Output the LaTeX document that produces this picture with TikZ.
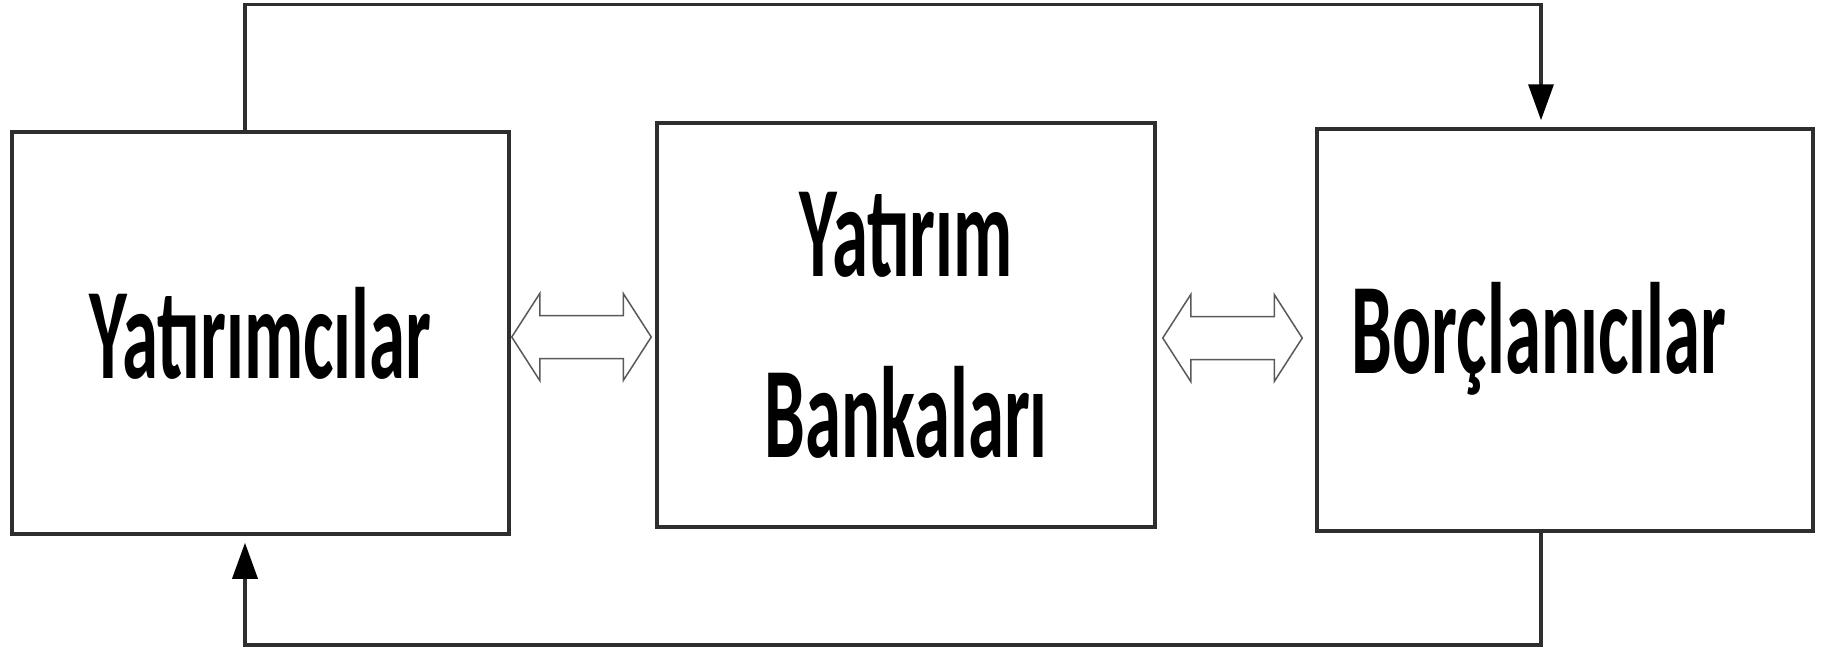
\documentclass[tikz,border=0pt]{standalone}
\usepackage{fontspec}
\setmainfont{Carlito}
\usetikzlibrary{arrows.meta,calc}
\newcommand\narrowtext[1]{\scalebox{0.56}[1]{#1}}
\begin{document}
\begin{tikzpicture}[x=1pt,y=-1pt,
  box/.style={draw=black!82, line width=3.5pt, inner sep=0pt, align=center,
    font=\bfseries\fontsize{130}{181}\selectfont},
  lbl/.style={inner sep=0pt, font=\bfseries\fontsize{130}{181}\selectfont},
  flow/.style={draw=black!82, line width=3.5pt, shorten >=7pt,
    -{Triangle[length=36pt,width=25pt,fill=black,color=black]}},
  dbl/.style={draw=black!65, line width=1.5pt, fill=white,
    to path={let \p1=(\tikztostart), \p2=(\tikztotarget) in
      (\x1,\y1) -- (\x1+28pt,\y1+43.5pt) -- (\x1+28pt,\y1+21.5pt)
      -- (\x2-28pt,\y1+21.5pt) -- (\x2-28pt,\y1+43.5pt) -- (\x2,\y1)
      -- (\x2-28pt,\y1-43.5pt) -- (\x2-28pt,\y1-21.5pt)
      -- (\x1+28pt,\y1-21.5pt) -- (\x1+28pt,\y1-43.5pt) -- cycle}}]
\useasboundingbox (0,0) rectangle (1822,649);

\node[box, minimum width=497pt, minimum height=402pt] (A) at (260.5,333)
  {\narrowtext{Yatırımcılar}};
\node[box, minimum width=498pt, minimum height=404pt] (B) at (906,325)
  {\narrowtext{Yatırım}\\\narrowtext{Bankaları}};
\node[box, minimum width=496pt, minimum height=402pt] (C) at (1565,330) {};
\node[lbl, anchor=base] (Ct) at ($(C.center)+(-26,43)$)
  {\narrowtext{Borçlanıcılar}};

\draw[flow] ([xshift=-15.5pt]A.north) -- ++(0,-126) -| ([xshift=-24pt]C.north);
\draw[flow] ([xshift=-24pt]C.south) -- ++(0,112) -| ([xshift=-15.5pt]A.south);

\coordinate (la) at ($(A.east)+(1,4)$);
\coordinate (lb) at ($(B.west)+(-4,12)$);
\coordinate (ra) at ($(B.east)+(6,13)$);
\coordinate (rb) at ($(C.west)+(-13,8)$);
\draw[dbl] (la) to (lb);
\draw[dbl] (ra) to (rb);
\end{tikzpicture}
\end{document}
